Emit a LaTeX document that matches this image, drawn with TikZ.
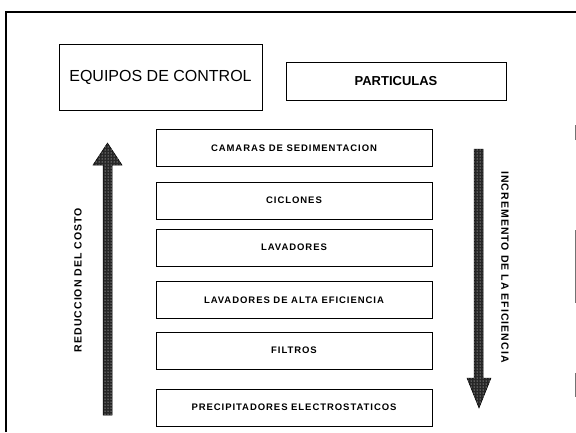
\documentclass[tikz,border=0pt]{standalone}
\usepackage{fontspec}
\setmainfont{Liberation Sans}
\newfontfamily\spc[LetterSpace=10]{Liberation Sans}
\usetikzlibrary{patterns}
\begin{document}
\begin{tikzpicture}[x=1pt,y=-1pt,
  box/.style={draw=black, line width=0.8pt, rectangle, inner sep=0pt},
  midbox/.style={box, minimum width=276pt, minimum height=37pt, font=\spc\bfseries\fontsize{9.5}{11}\selectfont},
  bigarrow/.style={draw=black, line width=0.5pt, fill=black!85, postaction={pattern=dots, pattern color=white!80}},
  sidelabel/.style={font=\spc\bfseries\fontsize{10.5}{12}\selectfont, inner sep=0pt},
  frame/.style={line width=1.2pt, black}
]
\useasboundingbox (0,0) rectangle (576,432);
% outer frame
\coordinate (tl) at (6,12);
\coordinate (tr) at (576,12);
\coordinate (bl) at (6,432);
\draw[frame] (bl) -- (tl) -- (tr);
\coordinate (r1a) at (575,125); \coordinate (r1b) at (575,140);
\coordinate (r2a) at (575,230); \coordinate (r2b) at (575,303);
\coordinate (r3a) at (575,373); \coordinate (r3b) at (575,397);
\draw[line width=0.5pt, black!55] (r1a) -- (r1b) (r2a) -- (r2b) (r3a) -- (r3b);

% header boxes
\node[box, minimum width=203pt, minimum height=66pt, font=\fontsize{16}{18}\selectfont] (equipos) at (160.5,77) {EQUIPOS DE CONTROL};
\node[box, minimum width=220pt, minimum height=38pt, font=\bfseries\fontsize{13}{15}\selectfont] (particulas) at (396,81) {PARTICULAS};

% middle boxes
\node[midbox] (camaras) at (294,148) {CAMARAS DE SEDIMENTACION};
\node[midbox] (ciclones) at (294,200.5) {CICLONES};
\node[midbox] (lavadores) at (294,247.5) {LAVADORES};
\node[midbox] (lavalta) at (294,300) {LAVADORES DE ALTA EFICIENCIA};
\node[midbox] (filtros) at (294,350.5) {FILTROS};
\node[midbox] (precip) at (294,407.5) {PRECIPITADORES ELECTROSTATICOS};

% arrows
\draw[bigarrow] (103,415) -- (103,165) -- (93,165) -- (107.5,143) -- (122,165) -- (112,165) -- (112,415) -- cycle;
\draw[bigarrow] (474,149) -- (474,378) -- (467,378) -- (479,408) -- (491,378) -- (483,378) -- (483,149) -- cycle;

% side labels
\node[sidelabel, rotate=90] (reduccion) at (78,280) {REDUCCION DEL COSTO};
\node[sidelabel, rotate=-90] (incremento) at (505,267) {INCREMENTO DE LA EFICIENCIA};
\end{tikzpicture}
\end{document}
